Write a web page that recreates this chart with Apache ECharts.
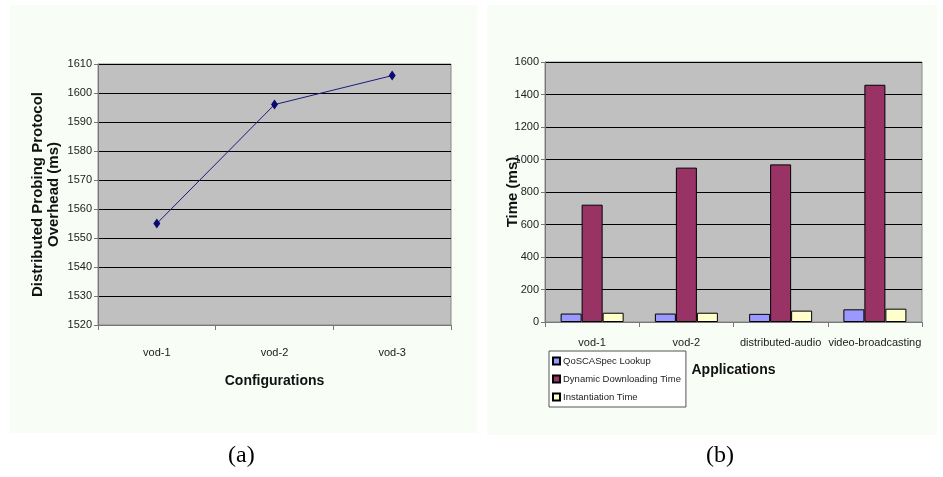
<!DOCTYPE html>
<html><head><meta charset="utf-8">
<script src="https://cdn.jsdelivr.net/npm/echarts@6/dist/echarts.min.js"></script>
<style>html,body{margin:0;padding:0;background:#fff}#c{width:943px;height:477px}</style>
</head><body><div id="c"></div>
<script>
// Panel (a)
var configs = ['vod-1', 'vod-2', 'vod-3'];
var overhead = [1555, 1596, 1606];
// Panel (b)
var apps = ['vod-1', 'vod-2', 'distributed-audio', 'video-broadcasting'];
var qosLookup = [52, 52, 50, 78];
var dynDownload = [722, 950, 970, 1460];
var instantiation = [57, 57, 70, 82];
var seriesNames = ['QoSCASpec Lookup', 'Dynamic Downloading Time', 'Instantiation Time'];

var tickFont = {fontFamily: '"Liberation Sans Narrow", "Liberation Sans", Arial, sans-serif', fontSize: 11, color: '#222'};
var plain = function (v) { return String(v); };
var chart = echarts.init(document.getElementById('c'), null, {renderer: 'canvas'});
var barStyle = function (c) { return {color: c, borderColor: '#000', borderWidth: 1}; };
chart.setOption({
  animation: false,
  backgroundColor: '#fff',
  graphic: [
    {type: 'rect', shape: {x: 10, y: 5, width: 467, height: 428}, style: {fill: '#f8fdf6'}, z: -10},
    {type: 'rect', shape: {x: 487, y: 5, width: 450, height: 430}, style: {fill: '#f8fdf6'}, z: -10},
    {type: 'text', left: 228, top: 444, style: {text: '(a)', font: '24px "Liberation Serif", "DejaVu Serif", serif', fill: '#000'}},
    {type: 'text', left: 706, top: 444, style: {text: '(b)', font: '24px "Liberation Serif", "DejaVu Serif", serif', fill: '#000'}}
  ],
  legend: {
    data: seriesNames,
    orient: 'vertical', left: 549, top: 351,
    padding: [5, 5, 5, 3],
    itemWidth: 7, itemHeight: 7, itemGap: 8,
    backgroundColor: '#fff', borderColor: '#555', borderWidth: 1,
    textStyle: {fontFamily: tickFont.fontFamily, fontSize: 9.5, color: '#222', padding: [0, 0, 0, -2]},
    icon: 'rect'
  },
  grid: [
    {left: 98, top: 64, width: 353, height: 261, show: true, backgroundColor: '#c0c0c0', borderColor: '#8a8a8a', borderWidth: 1},
    {left: 545, top: 62, width: 377, height: 260, show: true, backgroundColor: '#c0c0c0', borderColor: '#8a8a8a', borderWidth: 1}
  ],
  xAxis: [
    {gridIndex: 0, type: 'category', data: configs, boundaryGap: true,
     axisLine: {lineStyle: {color: '#777'}}, axisTick: {show: true, length: 5, lineStyle: {color: '#777'}},
     axisLabel: Object.assign({margin: 22}, tickFont),
     name: 'Configurations', nameLocation: 'middle', nameGap: 49,
     nameTextStyle: {fontFamily: tickFont.fontFamily, fontSize: 14, fontWeight: 'bold', color: '#111'}},
    {gridIndex: 1, type: 'category', data: apps, boundaryGap: true,
     axisLine: {lineStyle: {color: '#777'}}, axisTick: {show: true, length: 5, lineStyle: {color: '#777'}},
     axisLabel: Object.assign({margin: 15, interval: 0}, tickFont),
     name: 'Applications', nameLocation: 'middle', nameGap: 41,
     nameTextStyle: {fontFamily: tickFont.fontFamily, fontSize: 14, fontWeight: 'bold', color: '#111'}}
  ],
  yAxis: [
    {gridIndex: 0, type: 'value', min: 1520, max: 1610, interval: 10,
     axisLine: {show: true, lineStyle: {color: '#777'}}, axisTick: {show: true, length: 4, lineStyle: {color: '#777'}},
     splitLine: {lineStyle: {color: '#000', width: 1}},
     axisLabel: Object.assign({margin: 6, formatter: plain}, tickFont),
     name: 'Distributed Probing Protocol\nOverhead (ms)', nameLocation: 'middle', nameGap: 36, nameMoveOverlap: false,
     nameTextStyle: {fontFamily: '"Liberation Sans", Arial, sans-serif', fontSize: 15, fontWeight: 'bold', color: '#111', lineHeight: 16}},
    {gridIndex: 1, type: 'value', min: 0, max: 1600, interval: 200,
     axisLine: {show: true, lineStyle: {color: '#777'}}, axisTick: {show: true, length: 4, lineStyle: {color: '#777'}},
     splitLine: {lineStyle: {color: '#000', width: 1}},
     axisLabel: Object.assign({margin: 6, formatter: plain}, tickFont),
     name: 'Time (ms)', nameLocation: 'middle', nameGap: 25, nameMoveOverlap: false,
     nameTextStyle: {fontFamily: '"Liberation Sans", Arial, sans-serif', fontSize: 15, fontWeight: 'bold', color: '#111'}}
  ],
  series: [
    {name: 'Overhead', type: 'line', xAxisIndex: 0, yAxisIndex: 0, data: overhead,
     lineStyle: {color: '#1a1a80', width: 1}, itemStyle: {color: '#0a0a70'},
     symbol: 'diamond', symbolSize: [7, 10], showSymbol: true},
    {name: seriesNames[0], type: 'bar', xAxisIndex: 1, yAxisIndex: 1, data: qosLookup,
     barWidth: 21, barGap: '0%', itemStyle: barStyle('#9999ff')},
    {name: seriesNames[1], type: 'bar', xAxisIndex: 1, yAxisIndex: 1, data: dynDownload,
     barWidth: 21, barGap: '0%', itemStyle: barStyle('#993366')},
    {name: seriesNames[2], type: 'bar', xAxisIndex: 1, yAxisIndex: 1, data: instantiation,
     barWidth: 21, barGap: '0%', itemStyle: barStyle('#ffffcc')}
  ]
});
</script></body></html>
